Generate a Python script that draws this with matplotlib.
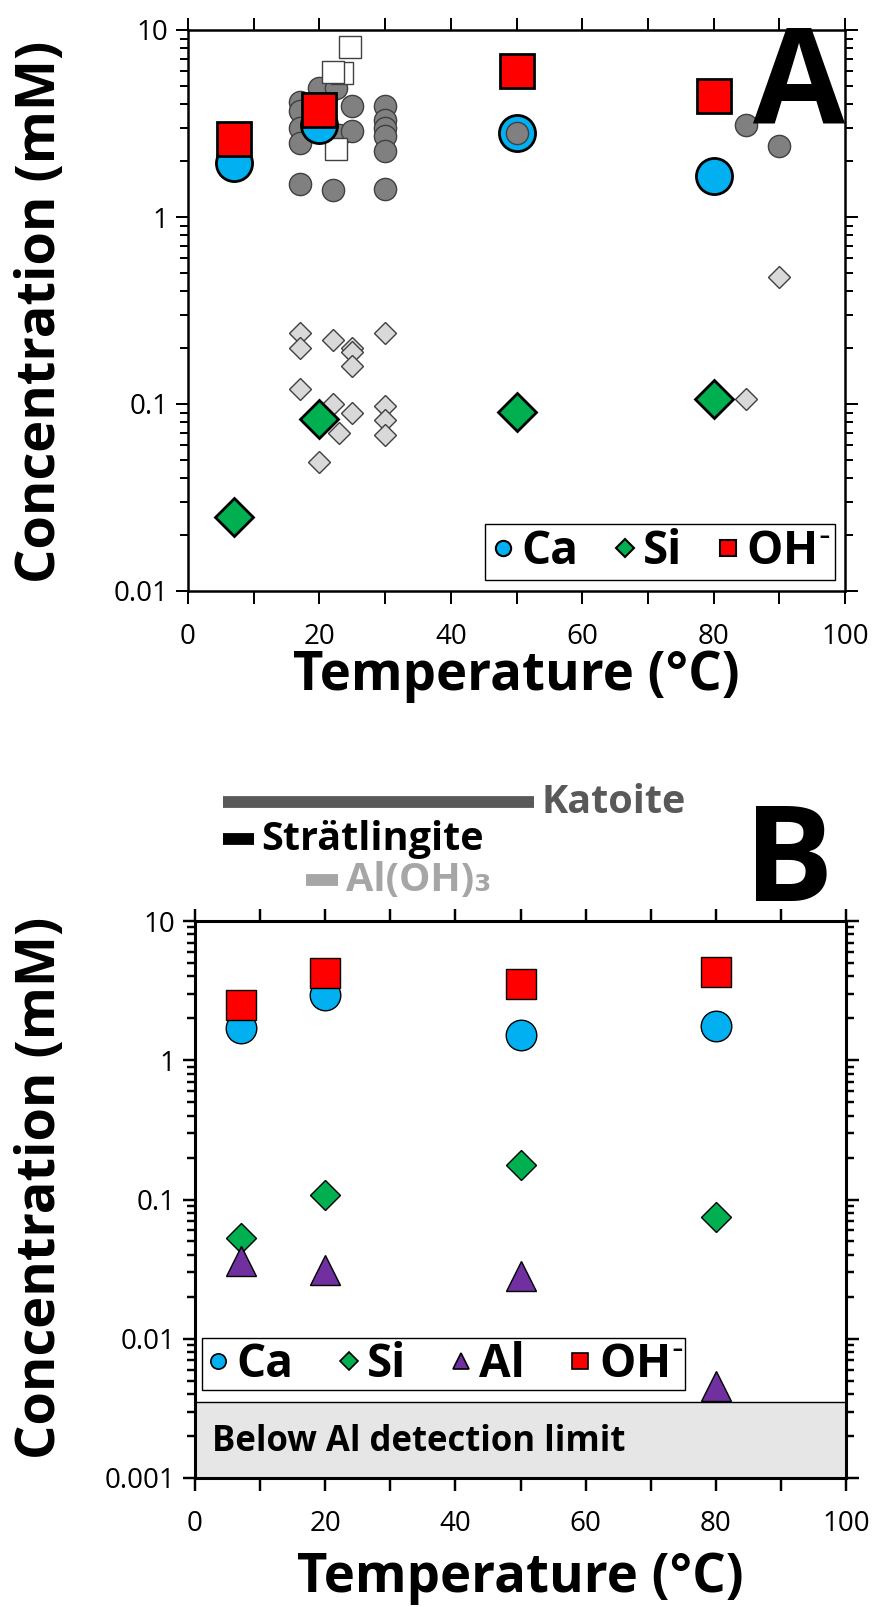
import matplotlib
matplotlib.use("Agg")
import matplotlib.pyplot as plt
from matplotlib import ticker
from matplotlib.lines import Line2D

plt.rcParams['font.family'] = ['Open Sans', 'DejaVu Sans']

# Panel A: this study
temps = [7, 20, 50, 80]
a_ca = [1.95, 3.1, 2.8, 1.66]
a_oh = [2.6, 3.75, 6.0, 4.45]
a_si = [0.0248, 0.083, 0.091, 0.107]

# Panel A: literature data (grey symbols)
lit_ca_t = [17, 17, 17, 17, 17, 20, 22.6, 22, 23, 25, 25, 30, 30, 30, 30, 30, 30, 85, 90]
lit_ca = [4.1, 3.7, 3.0, 2.5, 1.5, 4.9, 4.9, 1.39, 2.75, 3.9, 2.9, 3.9, 3.3, 3.0, 2.7, 2.25, 1.42, 3.1, 2.4]
lit_ca_top_t = [50]
lit_ca_top = [2.8]
lit_oh_t = [24.6, 23.4, 22, 22.6]
lit_oh = [8.1, 5.9, 5.95, 2.3]
lit_si_t = [17, 17, 22, 25, 25, 25, 30, 17, 22, 25, 23, 30, 30, 30, 20, 85, 90]
lit_si = [0.24, 0.2, 0.22, 0.2, 0.19, 0.16, 0.24, 0.12, 0.1, 0.09, 0.07, 0.098, 0.082, 0.068, 0.049, 0.107, 0.48]

# Panel B
b_ca = [1.7, 2.95, 1.52, 1.75]
b_oh = [2.5, 4.25, 3.5, 4.3]
b_si = [0.053, 0.108, 0.176, 0.075]
b_al = [0.036, 0.031, 0.028, 0.0046]
al_detect = 0.0035

# stable phases shown above panel B
phase_names = ['Katoite', 'Strätlingite', 'Al(OH)₃']
phase_start = [4.3, 4.3, 17]
phase_end = [52, 9, 22]

c_ca = '#00B0F0'
c_si = '#00B050'
c_oh = '#FF0000'
c_al = '#7030A0'

oh_label = r'OH$^{\text{-}}$'

fig = plt.figure(figsize=(8.77, 16.07), dpi=100)
axA = fig.add_axes([188/877, 1-591/1607, 657/877, 561/1607])
axB = fig.add_axes([195/877, 1-1478/1607, 651/877, 557/1607])


def style_axes(ax, lw):
    ax.set_yscale('log')
    ax.set_xlim(0, 100)
    for s in ax.spines.values():
        s.set_linewidth(lw)
    ax.xaxis.set_major_locator(ticker.MultipleLocator(20))
    ax.xaxis.set_minor_locator(ticker.MultipleLocator(10))
    ax.yaxis.set_major_locator(ticker.LogLocator(base=10))
    ax.yaxis.set_minor_locator(ticker.LogLocator(base=10, subs=range(2, 10)))
    ax.yaxis.set_minor_formatter(ticker.NullFormatter())
    ax.yaxis.set_major_formatter(ticker.FuncFormatter(lambda v, p: f'{v:g}'))
    ax.tick_params(which='both', direction='out', top=True, right=True,
                   labeltop=False, labelright=False, labelsize=20, width=lw*0.8)
    ax.tick_params(which='major', length=9)
    ax.tick_params(which='minor', length=6)
    ax.tick_params(axis='x', which='both', length=9, pad=14)
    ax.tick_params(axis='y', which='major', pad=5)


# ---- Panel A ----
style_axes(axA, 1.8)
axA.set_ylim(0.01, 10)
axA.plot(lit_ca_t, lit_ca, 'o', ms=16, mfc='#808080', mec='#404040', mew=1, zorder=2)
axA.plot(lit_oh_t, lit_oh, 's', ms=16, mfc='white', mec='#404040', mew=1, zorder=2)
axA.plot(lit_si_t, lit_si, 'D', ms=11, mfc='#D9D9D9', mec='#404040', mew=1, zorder=2)
axA.plot(temps, a_ca, 'o', ms=26, mfc=c_ca, mec='black', mew=2, zorder=3)
axA.plot(temps, a_oh, 's', ms=24, mfc=c_oh, mec='black', mew=2, zorder=4)
axA.plot(temps, a_si, 'D', ms=19, mfc=c_si, mec='black', mew=2, zorder=3)
axA.plot(lit_ca_top_t, lit_ca_top, 'o', ms=16, mfc='#808080', mec='#404040', mew=1, zorder=5)
axA.text(0.93, 0.895, 'A', transform=axA.transAxes, fontsize=96, fontweight='bold',
         ha='center', va='center')

hA = [Line2D([], [], ls='', marker='o', ms=11, mfc=c_ca, mec='black', mew=1.5),
      Line2D([], [], ls='', marker='D', ms=9, mfc=c_si, mec='black', mew=1.5),
      Line2D([], [], ls='', marker='s', ms=11, mfc=c_oh, mec='black', mew=1.5)]
legA = axA.legend(hA, ['Ca', 'Si', oh_label], loc='lower right', bbox_to_anchor=(0.985, 0.02),
                  ncol=3, handlelength=0.6, handletextpad=0.1, columnspacing=0.7,
                  borderpad=0.1, borderaxespad=0, fancybox=False, framealpha=1,
                  prop={'size': 33, 'weight': 'bold'})
legA.get_frame().set_edgecolor('black')
legA.get_frame().set_linewidth(1)

fig.text(516/877, 1-676/1607, 'Temperature (°C)', fontsize=38, fontweight='bold',
         ha='center', va='center')
fig.text(41/877, 1-312/1607, 'Concentration (mM)', fontsize=39, fontweight='bold',
         ha='center', va='center', rotation=90)

# ---- Panel B ----
style_axes(axB, 2.2)
axB.set_ylim(0.001, 10)
axB.axhspan(0.001, al_detect, color='#E6E6E6', zorder=0)
axB.axhline(al_detect, color='black', lw=1, zorder=1)
axB.text(0.026, 0.065, 'Below Al detection limit', transform=axB.transAxes, fontsize=25,
         fontweight='bold', ha='left', va='center')
axB.plot(temps, b_ca, 'o', ms=22, mfc=c_ca, mec='black', mew=1, zorder=3)
axB.plot(temps, b_oh, 's', ms=21, mfc=c_oh, mec='black', mew=1, zorder=4)
axB.plot(temps, b_si, 'D', ms=15, mfc=c_si, mec='black', mew=1, zorder=3)
axB.plot(temps, b_al, '^', ms=21, mfc=c_al, mec='black', mew=1, zorder=3)

hB = [Line2D([], [], ls='', marker='o', ms=11, mfc=c_ca, mec='black', mew=1.2),
      Line2D([], [], ls='', marker='D', ms=9, mfc=c_si, mec='black', mew=1.2),
      Line2D([], [], ls='', marker='^', ms=11, mfc=c_al, mec='black', mew=1.2),
      Line2D([], [], ls='', marker='s', ms=11, mfc=c_oh, mec='black', mew=1.2)]
legB = axB.legend(hB, ['Ca', 'Si', 'Al', oh_label], loc='lower left', bbox_to_anchor=(0.011, 0.158),
                  ncol=4, handlelength=0.6, handletextpad=0.1, columnspacing=0.9,
                  borderpad=0.05, borderaxespad=0, fancybox=False, framealpha=1,
                  prop={'size': 33, 'weight': 'bold'})
legB.get_frame().set_edgecolor('black')
legB.get_frame().set_linewidth(1)

# phase bars above panel B
phase_colors = ['#595959', 'black', '#A6A6A6']
phase_y = [1.2136, 1.147, 1.0736]
tr = axB.get_xaxis_transform()
for name, x0, x1, col, yy in zip(phase_names, phase_start, phase_end, phase_colors, phase_y):
    axB.plot([x0, x1], [yy, yy], color=col, lw=8.5, solid_capstyle='butt',
             transform=tr, clip_on=False)
    axB.text(x1 + 1.2, yy, name, color=col, fontsize=28.5, fontweight='bold',
             ha='left', va='center', transform=tr)

axB.text(0.912, 1.098, 'B', transform=axB.transAxes, fontsize=96, fontweight='bold',
         ha='center', va='center')

fig.text(520/877, 1-1578/1607, 'Temperature (°C)', fontsize=38, fontweight='bold',
         ha='center', va='center')
fig.text(41/877, 1-1188/1607, 'Concentration (mM)', fontsize=39, fontweight='bold',
         ha='center', va='center', rotation=90)

fig.savefig('out.png', dpi=100)
